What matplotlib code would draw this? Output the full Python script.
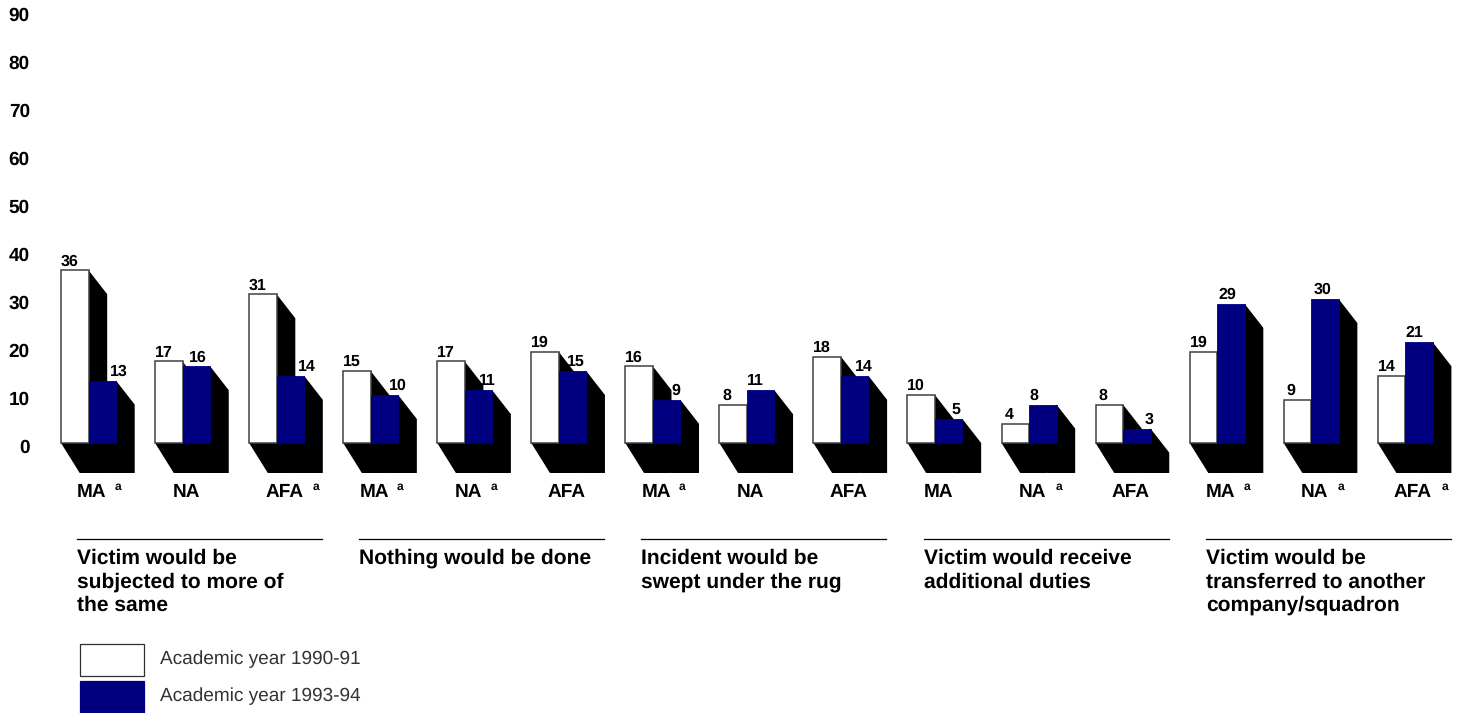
import matplotlib
matplotlib.use("Agg")
import matplotlib.pyplot as plt
from matplotlib.patches import Rectangle
from matplotlib.transforms import Affine2D, ScaledTranslation
import numpy as np

plt.rcParams['font.family'] = ['Liberation Sans', 'DejaVu Sans']
plt.rcParams['text.hinting'] = 'no_hinting'
plt.rcParams['text.hinting_factor'] = 1

academies = ["MA", "NA", "AFA", "MA", "NA", "AFA", "MA", "NA", "AFA",
             "MA", "NA", "AFA", "MA", "NA", "AFA"]
has_note = [1, 0, 1, 1, 1, 0, 1, 0, 0, 0, 1, 0, 1, 1, 1]
year_1990 = [36, 17, 31, 15, 17, 19, 16, 8, 18, 10, 4, 8, 19, 9, 14]
year_1994 = [13, 16, 14, 10, 11, 15, 9, 11, 14, 5, 8, 3, 29, 30, 21]
groups = ["Victim would be\nsubjected to more of\nthe same",
          "Nothing would be done",
          "Incident would be\nswept under the rug",
          "Victim would receive\nadditional duties",
          "Victim would be\ntransferred to another\ncompany/squadron"]
yticks = [0, 10, 20, 30, 40, 50, 60, 70, 80, 90]
legend_labels = ["Academic year 1990-91", "Academic year 1993-94"]

NAVY = "#000080"
W, H = 1465, 713

# pixel layout, one x unit is 1 px and y is scaled to 4.8 px per percent
x0 = 61
step = 94.05
bar_w = 27.5
px_per_val = 4.8
shadow_dx = 18.7
shadow_top = 24 / px_per_val
shadow_bot = 30 / px_per_val
# the blue labels are not centred in the original, they dodge the shadow
blue_shift = [21, 6, 21, 18, 14, 8, 19, 0, 14, 17, 0, 22, 1, 2, 0]

fig = plt.figure(figsize=(W / 100, H / 100), dpi=100)
ax = fig.add_axes([34 / W, 0, 1 - 34 / W, 1])
ax.set_xlim(34, W)
ax.set_ylim(-(H - 443) / px_per_val, 443 / px_per_val)
ax.patch.set_alpha(0)
for s in ax.spines.values():
    s.set_visible(False)
ax.set_xticks([])
ax.set_yticks(yticks)
ax.tick_params(axis='y', length=0, pad=3)
shift = ScaledTranslation(0, -1.8 / 72, fig.dpi_scale_trans)
for lab in ax.get_yticklabels():
    lab.set_fontsize(13.5)
    lab.set_fontweight('bold')
    lab.set_transform(lab.get_transform() + shift)

# text and rules below the chart are placed in pixels
pix = Affine2D().scale(1, -1).translate(0, H)


def shadow(left, right, v):
    xs = [left, left + shadow_dx, right + shadow_dx, right + shadow_dx, right]
    ys = [0, -shadow_bot, -shadow_bot, v - shadow_top, v]
    ax.fill(xs, ys, color="black", lw=0, zorder=2)


lefts = x0 + step * np.arange(len(academies))
for i, left in enumerate(lefts):
    a, b = year_1990[i], year_1994[i]
    mid = left + bar_w
    shadow(left, mid, a)
    shadow(mid, mid + bar_w, b)
    ax.bar(left, a, bar_w, align='edge', facecolor="white", edgecolor="#404040", lw=1.1, zorder=3)
    ax.bar(mid, b, bar_w, align='edge', facecolor=NAVY, edgecolor=NAVY, lw=0.6, zorder=4)

    off = 0 if a >= 10 else 3
    ax.annotate(str(a), (left + off, a), xytext=(0, 1), textcoords='offset points',
                fontsize=11.5, fontweight='bold', ha='left', va='bottom', zorder=5)
    ax.annotate(str(b), (mid + blue_shift[i], b), xytext=(0, 1), textcoords='offset points',
                fontsize=11.5, fontweight='bold', ha='left', va='bottom', zorder=5)

    name = academies[i]
    cx = left + (34 if name == "AFA" else 30)
    ax.text(cx + 1, 497, name, transform=pix, fontsize=13.5, fontweight='bold', ha='center', va='baseline')
    if has_note[i]:
        ax.text(left + (67 if name == "AFA" else 57), 490, "a", transform=pix,
                fontsize=8.5, fontweight='bold', ha='center', va='baseline')

for g, label in enumerate(groups):
    gx = 77 + 282.2 * g
    ax.plot([gx, gx + 245], [539, 539], transform=pix, color="black", lw=0.9, clip_on=False)
    for k, line in enumerate(label.split("\n")):
        ax.text(gx, 564 + 23.5 * k, line, transform=pix, fontsize=15, fontweight='bold',
                ha='left', va='baseline')

for (top, fc), label in zip([(644, "white"), (681, NAVY)], legend_labels):
    ax.add_patch(Rectangle((80, top), 64, 32, transform=pix, facecolor=fc,
                           edgecolor="#303030" if fc == "white" else NAVY, lw=0.9, clip_on=False))
    ax.text(160, top + 20, label, transform=pix, fontsize=13.6, color="#333333", ha='left', va='baseline')

fig.savefig("out.png", dpi=100)
